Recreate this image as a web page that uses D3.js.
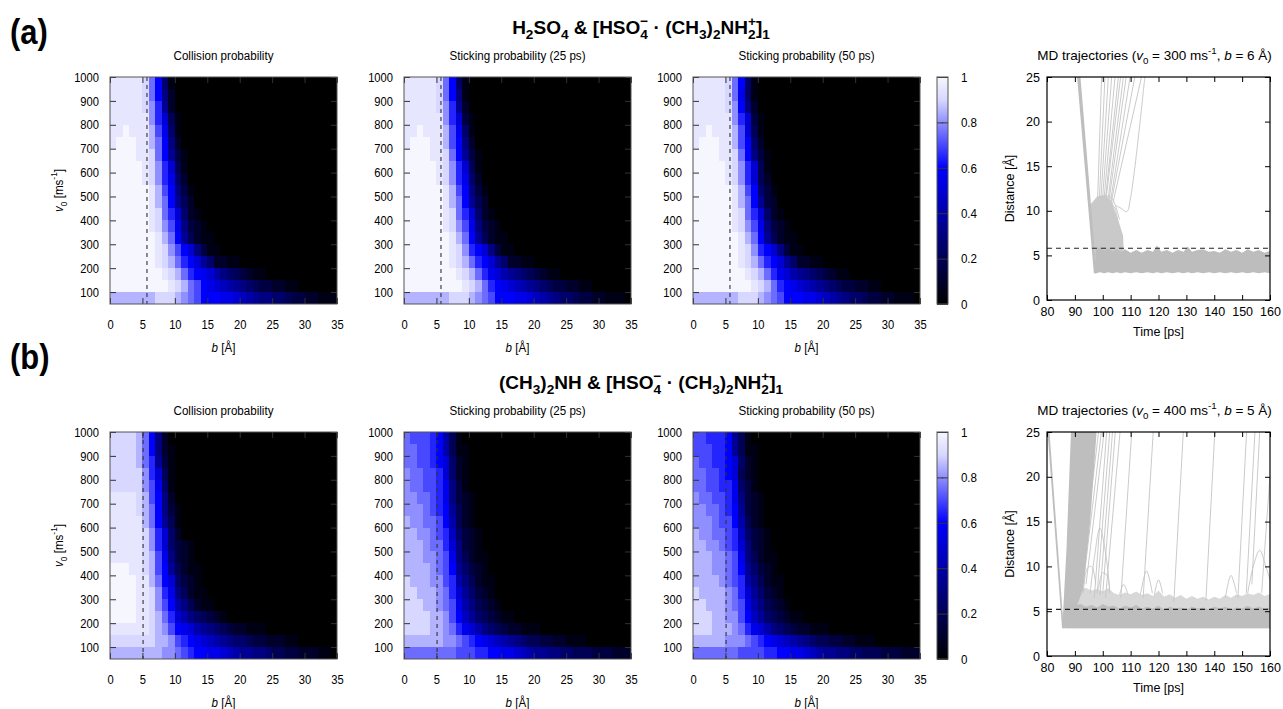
<!DOCTYPE html>
<html>
<head>
<meta charset="utf-8">
<script src="https://cdn.jsdelivr.net/npm/d3@7"></script>
<style>
  body { margin: 0; background: #fff; }
</style>
</head>
<body>
<div id="fig"></div>
<script>
// ---------- data ----------
// heatmap rows, top (v0 950-1000) to bottom (v0 50-100); one char per 1 A b-cell,
// "0".."K" = probability 0..1 in steps of 0.05, missing chars = 0
const LEVELS = "0123456789ABCDEFGHIJK";
const bMax = 35;
const v0Lower = [950, 900, 850, 800, 750, 700, 650, 600, 550, 500, 450, 400, 350, 300, 250, 200, 150, 100, 50];
const v0Ticks = [100, 200, 300, 400, 500, 600, 700, 800, 900, 1000];
const bTicks = [0, 5, 10, 15, 20, 25, 30, 35];
const cbTicks = [0, 0.2, 0.4, 0.6, 0.8, 1];
const timeTicks = [80, 90, 100, 110, 120, 130, 140, 150, 160];
const distTicks = [0, 5, 10, 15, 20, 25];

const collisionA = [
  "JJJJJIFC51", "JJJJJIFC62", "JJJJJIGD72", "JJJJJJGDA41", "JJKJJJHEB51",
  "JKKKJJHFC62", "KKKKJJIFC731", "KKKKKJIGDA41", "KKKKKJIGDB52", "KKKKKKJHEC631",
  "KKKKKKJHFC742", "KKKKKKJIFDA521", "KKKKKKJIGEB6321", "KKKKKKKJHFC74211", "KKKKKKKJIGECA6311",
  "KKKKKKKJIHFDCA752211", "KKKKKKKKJIHFDCBA86543211", "KKKKKKKKKJIHFECBA987654332211",
  "HHHHHHHIIIHGFECCCBBA987665543322111"
];
const stick25A = [
  "JJJJJIFC51", "JJJJJIFC61", "JJJJJIGD72", "JJJJJJGDA31", "JJKJJJHEB51",
  "JKKKJJHEC62", "KKKKJJIFC731", "KKKKKJIGDA41", "KKKKKJIGDB52", "KKKKKKJHEC631",
  "KKKKKKJHFC742", "KKKKKKJIFDA521", "KKKKKKJIGEB6321", "KKKKKKKJHFC74211", "KKKKKKKJIGDCA6311",
  "KKKKKKKJIHFDCA752211", "KKKKKKKKJIHFDBA876543211", "KKKKKKKKKJIHFDCBA987654332211",
  "HHHHHHHIIIHGFECCCBBA98765543322111"
];
const stick50A = [
  "JJJJJIFC51", "JJJJJIFB51", "JJJJJIGC62", "JJJJJJGDA31", "JJKJJJHEA41",
  "JKKKJJHEC52", "KKKKJJIFC631", "KKKKKJIGDA41", "KKKKKJIGDA42", "KKKKKKJHEC531",
  "KKKKKKJHFC732", "KKKKKKJIFDA521", "KKKKKKJIGEB6321", "KKKKKKKJHFC74211", "KKKKKKKJIGDCA6311",
  "KKKKKKKJIHFDCA752211", "KKKKKKKKJIHFDBA876543211", "KKKKKKKKKJIHFDCBA987654332211",
  "HHHHHHHIIIHGFECCCBBA98765543322111"
];
const collisionB = [
  "IIIIHFC62", "IIIIHFC621", "IIIIHFD731", "IIIIIGDA41", "IIIIIGEB51",
  "JJJJIHEC62", "JJJJIHFC631", "JJJJJHFC741", "JJJJJIGDA52", "JJJJJIGDA5321",
  "JJJJJIHEB6321", "KKKJJIHEC74211", "KKKKJJHFCA5321", "KKKKJJIGDB64211", "KKKKJJIGEC864211",
  "KKKKJJIHFDA8654321", "JJJJJJIHGECBA87654322111", "IIIIIIIHHGEDCBA98765543322211",
  "HHHHHHHHGGFEDCCBBA9877665443322211"
];
const stick25B = [
  "FEEEDC841", "FFEEDC8411", "FFEEDCA521", "GFFEEDA521", "GFFEEDB631",
  "GGFFEDB6321", "GGGFEDC7421", "HGGFFEC8421", "HHGGFED95321", "HHHGFFDA6321",
  "HHHGGFEB64211", "HHHHGFEC75321", "IHHHGGED864211", "IIHHHGFDA75321", "IIIHHGFEB864321",
  "IIIIHHGEC97543211", "IIIIHHGFDBA8654322111", "HHHHHHGGFEDCBA98765443322111",
  "FFFFFFFFEEEDDCCBBA987766554443332222111"
];
const stick50B = [
  "EEDDDC741", "EEEDDC7411", "FEEDDCA521", "FFEEDCA421", "FFEEDDB531",
  "GFFEEDB6321", "GGFFEDC7321", "GGGFEEC8421", "HGGFFED95321", "HHGGFEDA6321",
  "HHHGGFEB64211", "HHHGGFEC75321", "HHHHGFED864211", "IHHHHGFDA75321", "IIHHHGFEB864321",
  "IIIHHGGEC97543211", "IIIHHHGFDBA8654322111", "HHHHHGGGFEDCBA98765443322111",
  "FFFFFFFEEEEDDCCBBA987766554443332222111"
];

// MD trajectories (a): [time ps, distance A] / [time, low, high]
const mdA_dense = [
  [97.0, 3.0, 3.4], [97.6, 3.0, 5.6], [99, 3.1, 5.9], [100.5, 3.0, 5.5], [102, 3.1, 5.8], [103.5, 3.0, 5.4],
  [105, 3.1, 5.7], [106.5, 3.0, 5.4], [108, 3.1, 5.7], [110, 3.0, 5.3], [112, 3.1, 5.6], [114, 3.0, 5.3],
  [116, 3.1, 5.6], [118, 3.0, 5.4], [119.5, 3.1, 6.1], [121, 3.0, 5.4], [123, 3.1, 5.6], [125, 3.0, 5.3],
  [127, 3.1, 5.6], [129, 3.0, 5.4], [130.5, 3.1, 6.0], [132, 3.0, 5.4], [134, 3.1, 5.6], [136, 3.0, 5.7],
  [138, 3.1, 5.4], [140, 3.0, 5.5], [142, 3.1, 5.3], [144, 3.0, 5.7], [146, 3.1, 5.4], [148, 3.0, 5.6],
  [150, 3.1, 5.3], [152, 3.0, 5.7], [154, 3.1, 5.4], [156, 3.0, 5.6], [158, 3.1, 5.3], [160, 3.0, 5.5]
];
const mdA_approach = [[90.8, 25], [92.0, 25], [97.8, 3.0], [96.8, 3.0]];
const mdA_bounce = [[95.3, 10.6], [98, 11.6], [101, 11.8], [103.5, 10.8], [105.5, 9], [107.3, 7.2], [107.5, 5.6], [97.8, 3.5]];
const mdA_lines = [
  [[97.5, 5], [99.6, 25]], [[98, 6], [100.8, 25]], [[98.5, 7], [102, 25]], [[99, 7.5], [103.2, 25]],
  [[99.5, 8], [104.4, 25]], [[100, 8.5], [105.6, 25]], [[100.3, 9], [106.4, 25]], [[101, 9], [107.4, 25]],
  [[101.5, 9.5], [108.4, 25]], [[102, 9.5], [109.8, 25]], [[102.5, 10], [111.5, 25]], [[103, 10], [113.9, 25]],
  [[104.5, 10.6], [106.5, 10.3], [108.6, 9.9], [110, 11.5], [115.1, 25]],
  [[100, 10.5], [102, 11.7], [104, 11], [106, 9]], [[99, 9.8], [101.5, 10.8], [104, 10.5], [105.5, 8.5]]
];

// MD trajectories (b)
const mdB_light = [
  [86.5, 3.1, 6.5], [88, 3.1, 7.0], [90, 3.1, 7.8], [92, 3.1, 7.5], [94, 3.1, 7.6], [96, 3.1, 7.3],
  [98, 3.1, 7.5], [100, 3.1, 7.2], [102, 3.1, 7.6], [104, 3.1, 7.0], [106, 3.1, 6.8], [108, 3.1, 7.1],
  [110, 3.1, 6.9], [112, 3.1, 7.2], [114, 3.1, 6.8], [116, 3.1, 7.0], [118, 3.1, 6.7], [120, 3.1, 7.3],
  [122, 3.1, 6.6], [124, 3.1, 6.9], [126, 3.1, 6.5], [128, 3.1, 6.8], [130, 3.1, 6.4], [132, 3.1, 6.7],
  [134, 3.1, 6.4], [136, 3.1, 6.6], [138, 3.1, 6.3], [140, 3.1, 6.6], [142, 3.1, 6.4], [144, 3.1, 6.8],
  [146, 3.1, 6.5], [148, 3.1, 6.9], [150, 3.1, 6.7], [152, 3.1, 7.0], [154, 3.1, 6.8], [156, 3.1, 7.1],
  [158, 3.1, 6.7], [160, 3.1, 6.9]
];
const mdB_dense = [
  [85.6, 3.1, 3.5], [86.5, 3.1, 5.6], [88, 3.1, 5.9], [90, 3.1, 5.6], [92, 3.1, 5.8], [94, 3.1, 5.5],
  [96, 3.1, 5.7], [98, 3.1, 5.4], [100, 3.1, 5.8], [102, 3.1, 5.5], [104, 3.1, 5.6], [106, 3.1, 5.3],
  [108, 3.1, 5.6], [110, 3.1, 5.4], [112, 3.1, 5.7], [114, 3.1, 5.3], [116, 3.1, 5.5], [118, 3.1, 5.3],
  [120, 3.1, 5.6], [122, 3.1, 5.2], [124, 3.1, 5.5], [126, 3.1, 5.3], [128, 3.1, 5.4], [130, 3.1, 5.2],
  [132, 3.1, 5.5], [134, 3.1, 5.3], [136, 3.1, 5.4], [138, 3.1, 5.2], [140, 3.1, 5.5], [142, 3.1, 5.3],
  [144, 3.1, 5.5], [146, 3.1, 5.2], [148, 3.1, 5.4], [150, 3.1, 5.3], [152, 3.1, 5.6], [154, 3.1, 5.3],
  [156, 3.1, 5.5], [158, 3.1, 5.3], [160, 3.1, 5.4]
];
const mdB_approach = [[80.2, 25], [80.9, 25], [86.0, 3.1], [85.4, 3.1]];
const mdB_fan = [[85.5, 3.3], [90, 5], [93, 7.5], [95.5, 15], [97.8, 25], [88.6, 25], [87, 12]];
const mdB_lines = [
  [[92, 8], [98.5, 25]], [[93, 8], [99.5, 25]], [[94, 8], [100.5, 25]],
  [[97, 6.5], [101.4, 25]], [[98, 7], [102.5, 25]], [[99, 6.8], [103.5, 25]], [[100, 7], [104.5, 25]],
  [[101, 6.5], [106.2, 25]], [[106.5, 6.5], [110.4, 25]], [[114.5, 6.5], [118.1, 25]],
  [[125.5, 6], [128.9, 25]], [[137, 6.2], [140.2, 25]], [[148.5, 6.5], [151.6, 25]],
  [[151.5, 7], [154.6, 25]], [[153.5, 8], [156.3, 25]], [[157, 7], [159.5, 18], [160, 20]],
  [[95.5, 7], [97, 11], [99, 14.3], [101, 11.5], [102.5, 7.5]],
  [[93, 7], [94.5, 9.8], [96, 10], [97.5, 8]],
  [[98.5, 7.5], [100, 9.3], [101.5, 9], [102.5, 7]],
  [[106, 6.8], [107.5, 8], [109, 6.9]],
  [[113.5, 6.8], [115.7, 9.5], [117.8, 7]],
  [[118.5, 6.8], [120, 8.5], [121.5, 7]],
  [[144, 6.5], [146, 9], [148, 7]],
  [[152, 7], [154, 10], [156.3, 11.8], [158.5, 10], [160, 8.5]]
];

// ---------- layout ----------
const FONT = "'Liberation Sans', Arial, Helvetica, sans-serif";
const SX = 0.86;                 // heatmap text is horizontally condensed in the figure
const HEAT_X = [110, 404, 693];
const ROW_Y = [77, 432];
const HW = 227, HH = 227;
const CB_X = 937, CB_W = 11;
const MD_X = 1047, MD_W = 223;

const svg = d3.select("#fig").append("svg")
    .attr("width", 1283)
    .attr("height", 709)
    .style("font-family", FONT);
svg.append("rect").attr("width", 1283).attr("height", 709).attr("fill", "#fff");

const palette = d3.scaleLinear()
    .domain([0, 0.6, 0.9, 1])
    .range(["#000000", "#0000ff", "#d7d7ff", "#f6f6ff"]);

// text with sub/superscripts
function rich(parent, x, y, parts, opt) {
    opt = opt || {};
    const fs = opt.size || 13;
    const sx = opt.sx == null ? SX : opt.sx;
    const t = parent.append("text")
        .attr("transform", `translate(${x},${y})${opt.rotate ? " rotate(-90)" : ""} scale(${sx},1)`)
        .attr("text-anchor", opt.anchor || "middle")
        .style("font-size", fs + "px")
        .style("font-weight", opt.bold ? "bold" : "normal")
        .attr("fill", "#000");
    let cur = 0;
    (typeof parts === "string" ? [parts] : parts).forEach(function(p) {
        if (typeof p === "string") p = { t: p };
        const off = p.s === "sub" ? 0.28 * fs : p.s === "sup" ? -0.42 * fs : 0;
        const ts = t.append("tspan").text(p.t).attr("dy", off - cur);
        cur = off;
        if (p.s) ts.style("font-size", (0.72 * fs) + "px");
        if (p.i) ts.style("font-style", "italic");
        if (p.back) ts.attr("dx", -p.back * fs);
    });
    return t;
}

function styleAxis(sel, size, sx, leftPad) {
    sel.select(".domain").remove();
    sel.selectAll(".tick text")
        .attr("font-family", FONT)
        .attr("font-size", size)
        .attr("fill", "#000");
    if (leftPad != null) {
        sel.selectAll(".tick text").attr("x", null)
            .attr("transform", `translate(${-leftPad},0) scale(${sx},1)`);
    } else {
        sel.selectAll(".tick text").attr("transform", `scale(${sx},1)`);
    }
}

function drawHeatmap(rows, x0, y0, title, dashB, withYLabel) {
    const g = svg.append("g").attr("transform", `translate(${x0},${y0})`);
    const x = d3.scaleLinear().domain([0, bMax]).range([0, HW]);
    const y = d3.scaleLinear().domain([50, 1000]).range([HH, 0]);

    const cells = [];
    rows.forEach(function(s, r) {
        for (let c = 0; c < bMax; c++) {
            cells.push({ b: c, v: v0Lower[r], p: LEVELS.indexOf(s[c] || "0") / 20 });
        }
    });

    g.selectAll("rect.cell").data(cells).join("rect")
        .attr("class", "cell")
        .attr("x", d => x(d.b))
        .attr("y", d => y(d.v + 50))
        .attr("width", x(1) - x(0) + 0.3)
        .attr("height", y(50) - y(100) + 0.3)
        .attr("shape-rendering", "crispEdges")
        .attr("fill", d => palette(d.p));

    g.append("line")
        .attr("x1", x(dashB)).attr("x2", x(dashB))
        .attr("y1", 0).attr("y2", HH)
        .attr("stroke", "#333").attr("stroke-width", 1.1)
        .attr("stroke-dasharray", "4,4");

    const axes = g.append("g").attr("color", "#333");
    axes.append("g")
        .call(d3.axisLeft(y).tickValues(v0Ticks).tickSize(-6).tickPadding(11).tickFormat(d3.format("d")))
        .call(s => styleAxis(s, 13, SX, 11));
    axes.append("g").attr("transform", `translate(${HW},0)`)
        .call(d3.axisRight(y).tickValues(v0Ticks).tickSize(-6).tickFormat(""))
        .call(s => s.select(".domain").remove());
    axes.append("g").attr("transform", `translate(0,${HH})`)
        .call(d3.axisBottom(x).tickValues(bTicks).tickSize(-6).tickPadding(16))
        .call(s => styleAxis(s, 13, SX));
    axes.append("g")
        .call(d3.axisTop(x).tickValues(bTicks).tickSize(-6).tickFormat(""))
        .call(s => s.select(".domain").remove());

    g.append("rect").attr("width", HW).attr("height", HH)
        .attr("fill", "none").attr("stroke", "#555").attr("stroke-width", 1);

    rich(g, HW / 2, -17, title, { size: 13.5 });
    rich(g, HW / 2, HH + 48, [{ t: "b", i: true }, " [Å]"], { size: 13.5 });
    if (withYLabel) {
        rich(g, -47, HH / 2, [{ t: "v", i: true }, { t: "0", s: "sub" }, " [ms", { t: "-1", s: "sup" }, "]"],
            { size: 13.5, rotate: true });
    }
}

function drawColorbar(y0) {
    const g = svg.append("g").attr("transform", `translate(${CB_X},${y0})`);
    const c = d3.scaleLinear().domain([0, 1]).range([HH, 0]);
    const gid = "cbgrad" + y0;
    const grad = svg.append("defs").append("linearGradient").attr("id", gid)
        .attr("x1", 0).attr("x2", 0).attr("y1", 1).attr("y2", 0);
    grad.selectAll("stop").data(palette.domain()).join("stop")
        .attr("offset", d => d)
        .attr("stop-color", d => palette(d));
    g.append("rect").attr("width", CB_W).attr("height", HH).attr("fill", `url(#${gid})`);
    g.append("g").attr("color", "#333")
        .call(d3.axisLeft(c).tickValues(cbTicks).tickSize(-6).tickFormat(""))
        .call(s => s.select(".domain").remove());
    g.append("g").attr("color", "#333").attr("transform", `translate(${CB_W},0)`)
        .call(d3.axisRight(c).tickValues(cbTicks).tickSize(-6).tickPadding(15).tickFormat(d3.format("")))
        .call(s => styleAxis(s, 13.5, SX));
    g.append("rect").attr("width", CB_W).attr("height", HH)
        .attr("fill", "none").attr("stroke", "#555");
}

function drawMD(cfg) {
    const g = svg.append("g").attr("transform", `translate(${MD_X},${cfg.y0})`);
    const x = d3.scaleLinear().domain([80, 160]).range([0, MD_W]);
    const y = d3.scaleLinear().domain([0, 25]).range([cfg.h, 0]);

    svg.append("defs").append("clipPath").attr("id", cfg.id)
        .append("rect").attr("width", MD_W).attr("height", cfg.h);
    const plot = g.append("g").attr("clip-path", `url(#${cfg.id})`);

    const line = d3.line().x(d => x(d[0])).y(d => y(d[1])).curve(d3.curveCatmullRom);
    const poly = d3.line().x(d => x(d[0])).y(d => y(d[1]));
    const area = d3.area().x(d => x(d[0])).y0(d => y(d[1])).y1(d => y(d[2]));

    if (cfg.light) plot.append("path").attr("d", area(cfg.light)).attr("fill", "#d8d8d8");
    plot.selectAll("path.traj").data(cfg.lines).join("path")
        .attr("class", "traj")
        .attr("d", line)
        .attr("fill", "none")
        .attr("stroke", "#c4c4c4")
        .attr("stroke-width", 0.9);
    plot.selectAll("path.lpoly").data(cfg.lightPolys).join("path")
        .attr("class", "lpoly")
        .attr("d", d => poly(d) + "Z")
        .attr("fill", "#c9c9c9");
    plot.selectAll("path.dpoly").data(cfg.densePolys).join("path")
        .attr("class", "dpoly")
        .attr("d", d => poly(d) + "Z")
        .attr("fill", "#bebebe");
    plot.append("path").attr("d", area(cfg.dense)).attr("fill", "#bdbdbd");

    g.append("line")
        .attr("x1", 0).attr("x2", MD_W)
        .attr("y1", y(cfg.dash)).attr("y2", y(cfg.dash))
        .attr("stroke", "#222").attr("stroke-width", 1.1)
        .attr("stroke-dasharray", "5,4");

    const axes = g.append("g").attr("color", "#000");
    axes.append("g")
        .call(d3.axisLeft(y).tickValues(distTicks).tickSize(-5).tickPadding(7))
        .call(s => styleAxis(s, 12.5, 1, 7));
    axes.append("g").attr("transform", `translate(${MD_W},0)`)
        .call(d3.axisRight(y).tickValues(distTicks).tickSize(-5).tickFormat(""))
        .call(s => s.select(".domain").remove());
    axes.append("g").attr("transform", `translate(0,${cfg.h})`)
        .call(d3.axisBottom(x).tickValues(timeTicks).tickSize(-5).tickPadding(7))
        .call(s => styleAxis(s, 12.5, 1));
    axes.append("g")
        .call(d3.axisTop(x).tickValues(timeTicks).tickSize(-5).tickFormat(""))
        .call(s => s.select(".domain").remove());
    g.append("rect").attr("width", MD_W).attr("height", cfg.h)
        .attr("fill", "none").attr("stroke", "#000").attr("stroke-width", 1.2);

    rich(g, MD_W / 2 - 4, -17, cfg.title, { size: 13.5, sx: 1 });
    rich(g, MD_W / 2, cfg.h + 36, "Time [ps]", { size: 12.5, sx: 1 });
    rich(g, -33, cfg.h / 2, "Distance [Å]", { size: 12.5, sx: 1, rotate: true });
}

// ---------- panel (a) ----------
rich(svg, 10, 44, "(a)", { size: 36, bold: true, anchor: "start" });
rich(svg, 641, 34, ["H", { t: "2", s: "sub" }, "SO", { t: "4", s: "sub" }, " & [HSO", { t: "4", s: "sub" },
    { t: "−", s: "sup", back: 0.4 }, " · (CH", { t: "3", s: "sub" }, ")", { t: "2", s: "sub" }, "NH",
    { t: "2", s: "sub" }, { t: "+", s: "sup", back: 0.4 }, "]", { t: "1", s: "sub" }], { size: 19, bold: true, sx: 1 });

drawHeatmap(collisionA, HEAT_X[0], ROW_Y[0], "Collision probability", 5.7, true);
drawHeatmap(stick25A, HEAT_X[1], ROW_Y[0], "Sticking probability (25 ps)", 5.7, false);
drawHeatmap(stick50A, HEAT_X[2], ROW_Y[0], "Sticking probability (50 ps)", 5.7, false);
drawColorbar(ROW_Y[0]);
drawMD({
    id: "clipA", y0: 77, h: 223, dash: 5.8,
    title: ["MD trajectories (", { t: "v", i: true }, { t: "0", s: "sub" }, " = 300 ms", { t: "-1", s: "sup" },
        ", ", { t: "b", i: true }, " = 6 Å)"],
    light: null, dense: mdA_dense, lines: mdA_lines,
    lightPolys: [mdA_bounce], densePolys: [mdA_approach]
});

// ---------- panel (b) ----------
rich(svg, 10, 369, "(b)", { size: 36, bold: true, anchor: "start" });
rich(svg, 641, 389, ["(CH", { t: "3", s: "sub" }, ")", { t: "2", s: "sub" }, "NH & [HSO", { t: "4", s: "sub" },
    { t: "−", s: "sup", back: 0.4 }, " · (CH", { t: "3", s: "sub" }, ")", { t: "2", s: "sub" }, "NH",
    { t: "2", s: "sub" }, { t: "+", s: "sup", back: 0.4 }, "]", { t: "1", s: "sub" }], { size: 19, bold: true, sx: 1 });

drawHeatmap(collisionB, HEAT_X[0], ROW_Y[1], "Collision probability", 5.1, true);
drawHeatmap(stick25B, HEAT_X[1], ROW_Y[1], "Sticking probability (25 ps)", 5.1, false);
drawHeatmap(stick50B, HEAT_X[2], ROW_Y[1], "Sticking probability (50 ps)", 5.1, false);
drawColorbar(ROW_Y[1]);
drawMD({
    id: "clipB", y0: 432, h: 224, dash: 5.2,
    title: ["MD trajectories (", { t: "v", i: true }, { t: "0", s: "sub" }, " = 400 ms", { t: "-1", s: "sup" },
        ", ", { t: "b", i: true }, " = 5 Å)"],
    light: mdB_light, dense: mdB_dense, lines: mdB_lines,
    lightPolys: [], densePolys: [mdB_approach, mdB_fan]
});
</script>
</body>
</html>
